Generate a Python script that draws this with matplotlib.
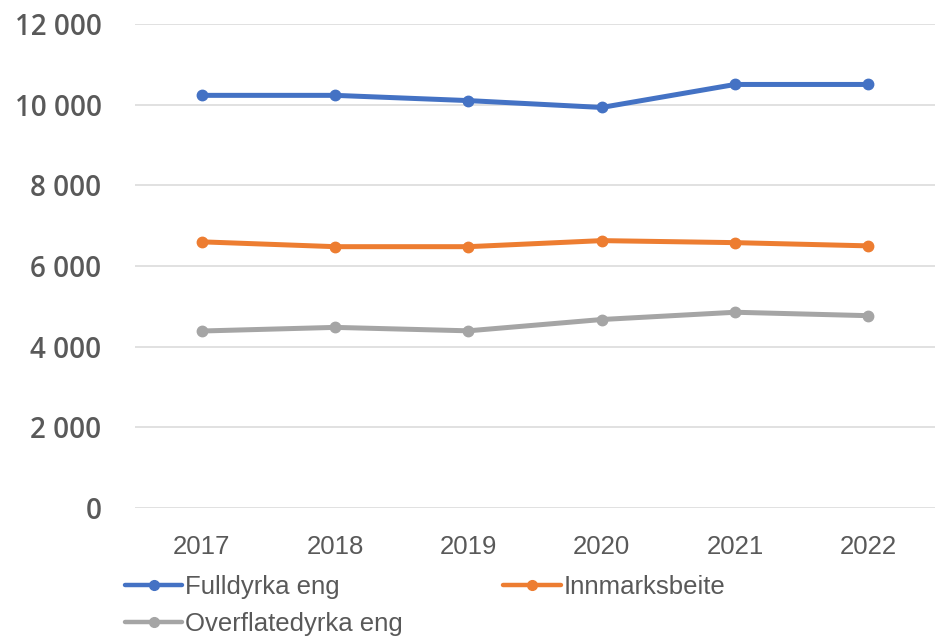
import matplotlib.pyplot as plt
from matplotlib.ticker import FuncFormatter

years = ['2017', '2018', '2019', '2020', '2021', '2022']
fulldyrka = [10230, 10230, 10100, 9930, 10500, 10500]
innmark = [6600, 6480, 6480, 6630, 6580, 6500]
overflate = [4390, 4480, 4395, 4675, 4855, 4770]

series = [
    ('Fulldyrka eng', fulldyrka, '#4472C4'),
    ('Innmarksbeite', innmark, '#ED7D31'),
    ('Overflatedyrka eng', overflate, '#A5A5A5'),
]

fig = plt.figure(figsize=(9.37, 6.38), dpi=100)
ax = fig.add_axes([0.144, 0.2035, 0.854, 0.759])

x = range(len(years))
lines = {}
for name, vals, col in series:
    lines[name], = ax.plot(x, vals, color=col, lw=3.6, marker='o', ms=7.5,
                           label=name, solid_capstyle='round')

ax.set_xlim(-0.5, len(years) - 0.5)
ax.set_ylim(0, 12000)
ax.set_yticks(range(0, 12001, 2000))
ax.yaxis.set_major_formatter(FuncFormatter(lambda v, p: f'{int(v):,}'.replace(',', ' ')))
ax.set_xticks(list(x))
ax.set_xticklabels(years)

ax.grid(axis='y', color='#D9D9D9', lw=1.1)
ax.set_axisbelow(True)
for s in ax.spines.values():
    s.set_visible(False)
ax.tick_params(length=0)
ax.tick_params(axis='y', pad=24, labelsize=20, labelcolor='#595959')
ax.tick_params(axis='x', pad=19, labelsize=18.5, labelcolor='#595959')
for t in ax.get_yticklabels():
    t.set_fontweight('semibold')
    t.set_family('Open Sans')
for t in ax.get_xticklabels():
    t.set_family('Liberation Sans')

# legend order so rows read: Fulldyrka, Innmarksbeite / Overflatedyrka
order = ['Fulldyrka eng', 'Overflatedyrka eng', 'Innmarksbeite']
leg = fig.legend([lines[n] for n in order], order, loc='upper left',
                 bbox_to_anchor=(0.133, 0.098), ncol=2, frameon=False,
                 handlelength=2.25, handletextpad=0.1, columnspacing=3.9,
                 labelspacing=0.48, borderaxespad=0, borderpad=0,
                 prop={'family': 'Liberation Sans', 'size': 18.5})
for t in leg.get_texts():
    t.set_color('#595959')
for h in leg.legend_handles:
    h.set_linewidth(3.2)
    h.set_markersize(7)

fig.savefig('out.png', dpi=100)
